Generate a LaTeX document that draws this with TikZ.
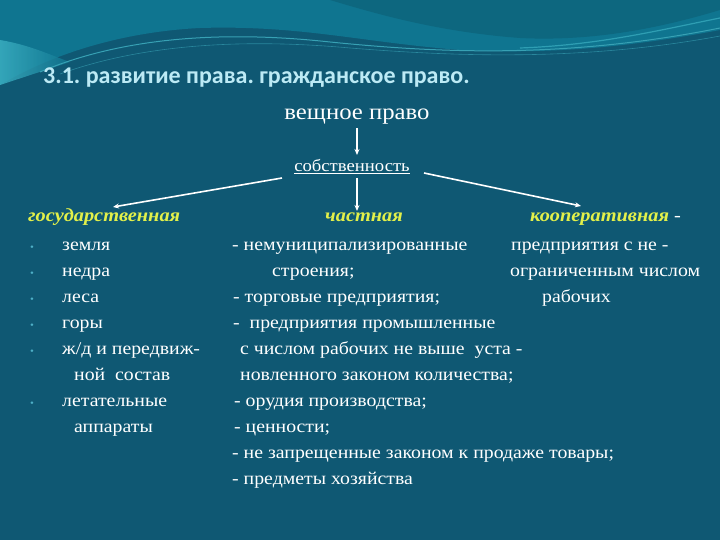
\documentclass[tikz,border=0pt]{standalone}
\usepackage{fontspec}
\setmainfont{Liberation Serif}[FakeStretch=1.1]
\newfontfamily\titlefont{Carlito}
\usetikzlibrary{arrows.meta}
\frenchspacing
\definecolor{bgmain}{HTML}{0F5873}
\definecolor{bgtop}{HTML}{0F7590}
\definecolor{wavelight}{HTML}{48C0D0}
\definecolor{titlecol}{HTML}{BCEAF5}
\definecolor{headcol}{HTML}{E2F04A}
\definecolor{bulletcol}{HTML}{4DAFC6}
\tikzset{
  txt/.style={anchor=base west, inner sep=0pt, text=white, font=\fontsize{18}{20}\selectfont},
  head/.style={anchor=base west, inner sep=0pt, text=headcol, font=\fontsize{18.5}{20}\selectfont\bfseries\itshape},
  bul/.style={anchor=base west, inner sep=0pt, text=bulletcol, font=\fontsize{10}{12}\selectfont},
  conn/.style={draw=white, line width=1.6pt, -{Stealth[length=6pt,width=5pt]}},
}
\begin{document}
\begin{tikzpicture}[x=1pt,y=-1pt]
\useasboundingbox (0,0) rectangle (720,540);
\fill[bgmain] (0,0) rectangle (720,540);
% top band
\fill[bgtop] (0,0) -- (720,0) -- (720,30) .. controls (640,45) and (560,55) .. (460,50) .. controls (360,42) and (300,25) .. (200,28) .. controls (120,32) and (50,55) .. (0,85) -- cycle;
\fill[bgtop!80!black!60!bgtop] (330,0) .. controls (380,15) and (440,32) .. (520,38) .. controls (600,42) and (670,25) .. (720,10) -- (720,0) -- cycle;
\shade[left color=wavelight!80!bgtop, right color=bgtop, opacity=0.8] (0,40) .. controls (30,45) and (50,55) .. (70,62) -- (0,85) -- cycle;
% streaks
\draw[wavelight!70!bgmain, line width=1pt] (40,72) .. controls (120,38) and (220,30) .. (330,42) .. controls (430,52) and (560,60) .. (720,28);
\draw[wavelight!45!bgmain, line width=0.6pt] (60,74) .. controls (140,45) and (240,38) .. (350,48) .. controls (450,56) and (580,62) .. (720,36);
\draw[wavelight!55!bgtop, line width=1.2pt] (520,48) .. controls (600,45) and (660,30) .. (720,18);

\node[anchor=base west, inner sep=0pt, text=titlecol, font=\titlefont\fontsize{24}{28}\selectfont\bfseries] (title) at (43,84) {3.1. развитие права. гражданское право.};

\node[anchor=base, inner sep=0pt, text=white, font=\fontsize{22.5}{24}\selectfont] (vesh) at (357,120) {вещное право};
\node[anchor=base, inner sep=0pt, text=white, font=\fontsize{17}{19}\selectfont] (sob) at (352,172) {\underline{собственность}};

\coordinate (aL) at (113,207);
\coordinate (aR) at (581,206);
\coordinate (aM) at (357,211);
\coordinate (sL) at (282,178);
\coordinate (sR) at (424,173);
\coordinate (sM) at (357,178);
\coordinate (vB) at (357,128);
\coordinate (sT) at (357,155);
\draw[conn] (vB) -- (sT);
\draw[conn] (sL) -- (aL);
\draw[conn] (sM) -- (aM);
\draw[conn] (sR) -- (aR);

% headers
\node[head] (hg) at (28,222) {государственная};
\node[head] (hc) at (325,222) {частная};
\node[head] (hk) at (530,222) {кооперативная\textcolor{white}{\normalfont\ -}};

% left column
\node[bul] (b1) at (30,250) {\textbullet};
\node[bul] (b2) at (30,276) {\textbullet};
\node[bul] (b3) at (30,302) {\textbullet};
\node[bul] (b4) at (30,328) {\textbullet};
\node[bul] (b5) at (30,354) {\textbullet};
\node[bul] (b6) at (30,406) {\textbullet};
\node[txt] (l1) at (62,250) {земля};
\node[txt] (l2) at (62,276) {недра};
\node[txt] (l3) at (62,302) {леса};
\node[txt] (l4) at (62,328) {горы};
\node[txt] (l5) at (62,354) {ж/д и передвиж-};
\node[txt] (l6) at (74,380) {ной\ \ состав};
\node[txt] (l7) at (62,406) {летательные};
\node[txt] (l8) at (74,432) {аппараты};

% middle column
\node[txt] (m1) at (232,250) {- немуниципализированные};
\node[txt] (m2) at (272,276) {строения;};
\node[txt] (m3) at (233,302) {- торговые предприятия;};
\node[txt] (m4) at (233,328) {-\ \ предприятия промышленные};
\node[txt] (m5) at (240,354) {с числом рабочих не выше\ \ уста -};
\node[txt] (m6) at (240,380) {новленного законом количества;};
\node[txt] (m7) at (234,406) {- орудия производства;};
\node[txt] (m8) at (234,432) {- ценности;};
\node[txt] (m9) at (232,458) {- не запрещенные законом к продаже товары;};
\node[txt] (m10) at (232,484) {- предметы хозяйства};

% right column
\node[txt] (r1) at (511,250) {предприятия с не -};
\node[txt] (r2) at (510,276) {ограниченным числом};
\node[txt] (r3) at (542,302) {рабочих};
\end{tikzpicture}
\end{document}
